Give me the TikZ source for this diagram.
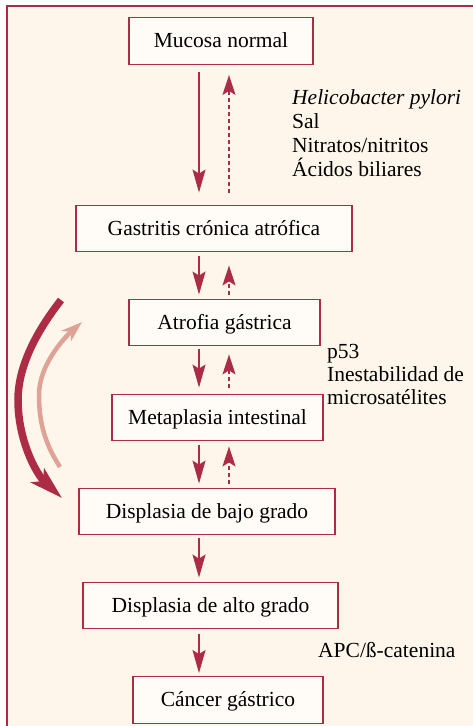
\documentclass[tikz,border=0pt]{standalone}
\usepackage{fontspec}
\setmainfont{Liberation Serif}
\usetikzlibrary{arrows.meta,calc}
\definecolor{crim}{RGB}{172,44,70}
\definecolor{cream}{RGB}{254,246,234}
\definecolor{boxfill}{RGB}{255,251,246}
\definecolor{pinkarrow}{RGB}{222,162,150}
\begin{document}
\begin{tikzpicture}[x=1pt,y=-1pt,
  every node/.style={font=\fontsize{21.5}{24}\selectfont},
  stage/.style={draw=crim, fill=boxfill, line width=1.4pt, minimum height=46.5pt,
    inner xsep=0pt, inner ysep=0pt, text height=16pt, text depth=3pt},
  lbl/.style={anchor=base west, inner sep=0pt},
  dn/.style={draw=crim, line width=1.4pt, -{Stealth[length=23pt,width=13pt,inset=4pt]}},
  upd/.style={draw=crim, line width=1.4pt, dash pattern=on 4pt off 3pt,
    -{Stealth[length=20pt,width=13pt,inset=4pt]}}
]
\useasboundingbox (0,0) rectangle (473,726);
\fill[cream] (7,6) rectangle (480,740);
\draw[crim, line width=1.6pt] (480,6) -- (7,6) -- (7,740);

\coordinate (L) at (199,0);
\coordinate (R) at (229,0);

\node[stage, minimum width=184pt] (m) at (221,41) {Mucosa normal};
\node[stage, minimum width=276pt] (g) at (214,228.5) {Gastritis crónica atrófica};
\node[stage, minimum width=191pt] (a) at (224.5,322.5) {Atrofia gástrica};
\node[stage, minimum width=211pt] (mi) at (217.5,417.5) {Metaplasia intestinal};
\node[stage, minimum width=256pt] (b) at (207,511.5) {Displasia de bajo grado};
\node[stage, minimum width=255pt] (h) at (210.5,605.5) {Displasia de alto grado};
\node[stage, minimum width=190pt] (c) at (228,700) {Cáncer gástrico};

% vertical arrows
\draw[dn, shorten <=7pt, shorten >=12pt] (m.south -| L) -- (g.north -| L);
\draw[upd, shorten <=12pt, shorten >=10pt] (g.north -| R) -- (m.south -| R);
\draw[dn, shorten <=4pt, shorten >=4pt] (g.south -| L) -- (a.north -| L);
\draw[upd, shorten <=4pt, shorten >=13pt] (a.north -| R) -- (g.south -| R);
\draw[dn, shorten <=3pt, shorten >=6pt] (a.south -| L) -- (mi.north -| L);
\draw[upd, shorten <=6pt, shorten >=8pt] (mi.north -| R) -- (a.south -| R);
\draw[dn, shorten <=4pt, shorten >=4pt] (mi.south -| L) -- (b.north -| L);
\draw[upd, shorten <=4pt, shorten >=5pt] (b.north -| R) -- (mi.south -| R);
\draw[dn, shorten <=3pt, shorten >=4pt] (b.south -| L) -- (h.north -| L);
\draw[dn, shorten <=5pt, shorten >=3pt] (h.south -| L) -- (c.north -| L);

% curved arrows
\coordinate (d1) at (61,300);
\coordinate (d2) at (62,498);
\coordinate (e1) at (60,467);
\coordinate (e2) at (82,322);
\draw[crim, line width=7.5pt, -{Stealth[length=33pt,width=19pt,inset=8pt]}]
  (d1) .. controls (44,322) and (18,360) .. (18,400)
       .. controls (18,440) and (36,474) .. (d2);
\draw[pinkarrow, line width=4.5pt, -{Stealth[length=21pt,width=14pt,inset=6pt]}]
  (e1) .. controls (46,445) and (39,425) .. (39,395)
       .. controls (39,365) and (64,338) .. (e2);

% side labels
\node[lbl] (f1) at (292,104) {\itshape Helicobacter pylori};
\node[lbl] (f2) at (292,128) {Sal};
\node[lbl] (f3) at (292,152) {Nitratos/nitritos};
\node[lbl] (f4) at (292,176) {Ácidos biliares};
\node[lbl] (p1) at (327,358) {p53};
\node[lbl] (p2) at (327,381) {Inestabilidad de};
\node[lbl] (p3) at (327,404) {microsatélites};
\node[lbl] (apc) at (318,657) {APC/ß-catenina};
\end{tikzpicture}
\end{document}
